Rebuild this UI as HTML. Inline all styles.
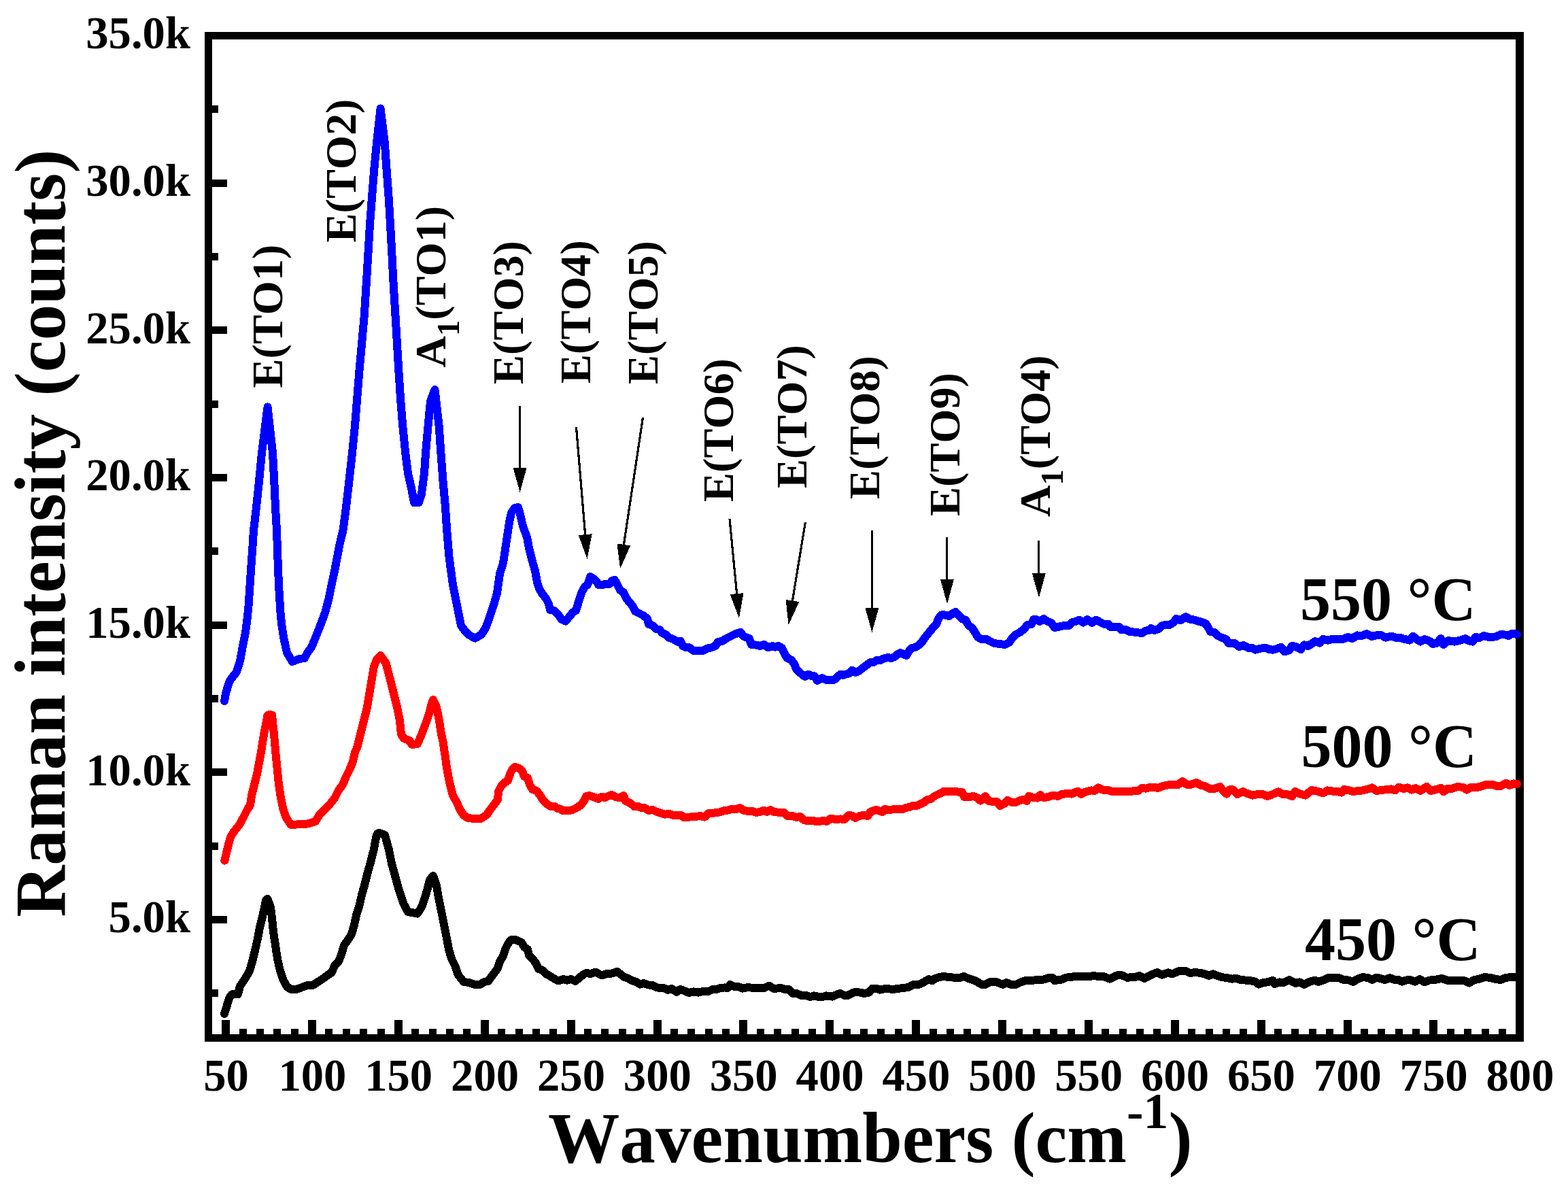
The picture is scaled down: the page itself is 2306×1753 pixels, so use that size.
<!DOCTYPE html>
<html lang="en"><head><meta charset="utf-8"><title>Raman spectra</title>
<style>html,body{margin:0;padding:0;background:#fff;}body{width:2306px;height:1753px;overflow:hidden;}svg{display:block;}text{font-family:"Liberation Serif","Times New Roman",serif;font-weight:bold;fill:#000;font-kerning:none;font-variant-ligatures:none;}</style>
</head><body>
<svg width="2306" height="1753" viewBox="0 0 2306 1753" role="img" aria-label="Raman spectra at 450, 500 and 550 degrees C">
<rect x="0" y="0" width="2306" height="1753" fill="#fff"/>
<g shape-rendering="crispEdges" fill="#000">
<rect x="301" y="47" width="1940" height="11"/>
<rect x="301" y="1521" width="1940" height="11"/>
<rect x="301" y="47" width="11" height="1485"/>
<rect x="2229" y="47" width="12" height="1485"/>
<rect x="326" y="1500" width="12" height="22"/>
<rect x="352" y="1513" width="11" height="9"/>
<rect x="377" y="1513" width="11" height="9"/>
<rect x="402" y="1513" width="11" height="9"/>
<rect x="428" y="1513" width="11" height="9"/>
<rect x="453" y="1500" width="12" height="22"/>
<rect x="478" y="1513" width="11" height="9"/>
<rect x="504" y="1513" width="11" height="9"/>
<rect x="529" y="1513" width="11" height="9"/>
<rect x="555" y="1513" width="11" height="9"/>
<rect x="580" y="1500" width="12" height="22"/>
<rect x="605" y="1513" width="11" height="9"/>
<rect x="631" y="1513" width="11" height="9"/>
<rect x="656" y="1513" width="11" height="9"/>
<rect x="681" y="1513" width="11" height="9"/>
<rect x="707" y="1500" width="12" height="22"/>
<rect x="732" y="1513" width="11" height="9"/>
<rect x="758" y="1513" width="11" height="9"/>
<rect x="783" y="1513" width="11" height="9"/>
<rect x="808" y="1513" width="11" height="9"/>
<rect x="834" y="1500" width="12" height="22"/>
<rect x="859" y="1513" width="11" height="9"/>
<rect x="884" y="1513" width="11" height="9"/>
<rect x="910" y="1513" width="11" height="9"/>
<rect x="935" y="1513" width="11" height="9"/>
<rect x="961" y="1500" width="12" height="22"/>
<rect x="986" y="1513" width="11" height="9"/>
<rect x="1011" y="1513" width="11" height="9"/>
<rect x="1037" y="1513" width="11" height="9"/>
<rect x="1062" y="1513" width="11" height="9"/>
<rect x="1087" y="1500" width="12" height="22"/>
<rect x="1113" y="1513" width="11" height="9"/>
<rect x="1138" y="1513" width="11" height="9"/>
<rect x="1164" y="1513" width="11" height="9"/>
<rect x="1189" y="1513" width="11" height="9"/>
<rect x="1214" y="1500" width="12" height="22"/>
<rect x="1240" y="1513" width="11" height="9"/>
<rect x="1265" y="1513" width="11" height="9"/>
<rect x="1290" y="1513" width="11" height="9"/>
<rect x="1316" y="1513" width="11" height="9"/>
<rect x="1341" y="1500" width="12" height="22"/>
<rect x="1367" y="1513" width="11" height="9"/>
<rect x="1392" y="1513" width="11" height="9"/>
<rect x="1417" y="1513" width="11" height="9"/>
<rect x="1443" y="1513" width="11" height="9"/>
<rect x="1468" y="1500" width="12" height="22"/>
<rect x="1493" y="1513" width="11" height="9"/>
<rect x="1519" y="1513" width="11" height="9"/>
<rect x="1544" y="1513" width="11" height="9"/>
<rect x="1570" y="1513" width="11" height="9"/>
<rect x="1595" y="1500" width="12" height="22"/>
<rect x="1620" y="1513" width="11" height="9"/>
<rect x="1646" y="1513" width="11" height="9"/>
<rect x="1671" y="1513" width="11" height="9"/>
<rect x="1696" y="1513" width="11" height="9"/>
<rect x="1722" y="1500" width="12" height="22"/>
<rect x="1747" y="1513" width="11" height="9"/>
<rect x="1773" y="1513" width="11" height="9"/>
<rect x="1798" y="1513" width="11" height="9"/>
<rect x="1823" y="1513" width="11" height="9"/>
<rect x="1849" y="1500" width="12" height="22"/>
<rect x="1874" y="1513" width="11" height="9"/>
<rect x="1899" y="1513" width="11" height="9"/>
<rect x="1925" y="1513" width="11" height="9"/>
<rect x="1950" y="1513" width="11" height="9"/>
<rect x="1976" y="1500" width="12" height="22"/>
<rect x="2001" y="1513" width="11" height="9"/>
<rect x="2026" y="1513" width="11" height="9"/>
<rect x="2052" y="1513" width="11" height="9"/>
<rect x="2077" y="1513" width="11" height="9"/>
<rect x="2102" y="1500" width="12" height="22"/>
<rect x="2128" y="1513" width="11" height="9"/>
<rect x="2153" y="1513" width="11" height="9"/>
<rect x="2179" y="1513" width="11" height="9"/>
<rect x="2204" y="1513" width="11" height="9"/>
<rect x="311" y="1455" width="10" height="11"/>
<rect x="311" y="1347" width="23" height="11"/>
<rect x="311" y="1239" width="10" height="11"/>
<rect x="311" y="1130" width="23" height="11"/>
<rect x="311" y="1022" width="10" height="11"/>
<rect x="311" y="914" width="23" height="11"/>
<rect x="311" y="805" width="10" height="11"/>
<rect x="311" y="697" width="23" height="11"/>
<rect x="311" y="589" width="10" height="11"/>
<rect x="311" y="480" width="23" height="11"/>
<rect x="311" y="372" width="10" height="11"/>
<rect x="311" y="264" width="23" height="11"/>
<rect x="311" y="155" width="10" height="11"/>
</g>
<g fill="none" stroke-width="12.0" stroke-linejoin="round" stroke-linecap="round" shape-rendering="crispEdges">
<path d="M330.0,1491.0 L334.0,1478.0 L338.0,1466.0 L341.0,1462.4 L350.0,1462.0 L353.0,1450.0 L360.0,1440.0 L367.0,1428.0 L371.0,1414.0 L375.0,1398.0 L379.0,1380.0 L382.0,1364.0 L386.0,1348.0 L389.0,1334.0 L391.0,1324.0 L393.4,1322.0 L398.0,1334.0 L400.0,1350.0 L402.0,1370.0 L405.0,1390.0 L408.0,1410.0 L412.0,1428.0 L417.0,1442.0 L422.0,1451.0 L428.0,1455.0 L436.0,1455.0 L444.0,1452.0 L452.0,1449.0 L460.0,1449.0 L466.0,1445.0 L474.0,1440.0 L482.0,1434.0 L488.0,1430.0 L492.0,1420.0 L498.0,1414.0 L502.0,1404.0 L506.0,1390.0 L512.0,1382.0 L517.0,1374.0 L521.0,1360.0 L524.0,1346.0 L528.0,1334.0 L532.0,1316.0 L536.0,1302.0 L540.0,1286.0 L545.0,1268.0 L549.6,1250.0 L553.0,1232.0 L555.0,1226.0 L558.0,1225.0 L566.0,1228.0 L572.0,1250.0 L576.0,1270.0 L581.6,1290.0 L587.0,1310.0 L594.0,1330.0 L600.0,1341.0 L614.0,1343.6 L620.0,1334.0 L625.0,1320.0 L629.0,1306.0 L632.0,1294.0 L637.0,1288.0 L642.0,1302.0 L645.0,1320.0 L649.0,1340.0 L653.0,1360.0 L657.0,1380.0 L660.0,1396.0 L664.0,1410.0 L670.0,1422.0 L674.0,1434.0 L682.0,1444.0 L690.0,1445.0 L698.0,1448.0 L706.0,1448.0 L712.0,1444.0 L718.0,1443.0 L720.0,1440.0 L726.0,1432.0 L732.0,1424.0 L735.0,1414.0 L740.0,1406.0 L743.0,1396.0 L747.0,1388.0 L751.0,1382.4 L756.0,1381.6 L762.0,1383.6 L767.0,1386.0 L771.0,1393.0 L776.0,1396.0 L778.0,1405.0 L783.0,1410.0 L788.0,1416.0 L792.0,1425.0 L798.0,1427.0 L803.0,1432.4 L808.0,1435.0 L813.0,1438.0 L818.0,1441.0 L822.0,1442.4 L828.0,1440.0 L834.0,1441.6 L840.0,1440.0 L846.0,1443.0 L852.0,1438.0 L858.0,1433.0 L862.0,1431.0 L869.0,1432.0 L876.0,1429.6 L882.0,1433.0 L886.0,1434.4 L892.0,1432.0 L898.0,1432.0 L903.0,1430.4 L908.0,1429.0 L913.0,1433.0 L918.0,1437.0 L924.0,1439.0 L930.0,1442.4 L936.0,1444.0 L941.0,1447.6 L947.0,1446.0 L953.0,1448.4 L960.0,1449.0 L966.0,1452.4 L973.0,1453.0 L978.0,1453.6 L982.0,1456.0 L988.0,1454.0 L995.0,1459.0 L1000.0,1455.0 L1006.0,1457.0 L1013.0,1460.0 L1020.0,1458.4 L1027.0,1459.6 L1034.0,1458.0 L1042.0,1458.0 L1048.0,1455.0 L1054.0,1455.0 L1060.0,1453.0 L1066.0,1452.4 L1070.0,1453.0 L1074.0,1448.0 L1080.0,1451.0 L1086.0,1451.0 L1092.0,1453.6 L1100.0,1452.0 L1108.0,1453.0 L1116.0,1453.0 L1124.0,1453.0 L1131.0,1449.6 L1137.0,1453.6 L1142.0,1453.6 L1148.0,1453.0 L1154.0,1455.0 L1160.0,1455.0 L1166.0,1461.0 L1172.0,1461.0 L1179.0,1464.4 L1184.0,1463.6 L1192.0,1466.0 L1197.0,1464.4 L1204.0,1466.0 L1210.0,1466.0 L1215.0,1464.4 L1224.0,1465.6 L1230.0,1463.0 L1236.0,1461.0 L1242.0,1464.0 L1248.0,1463.6 L1252.0,1461.0 L1258.0,1459.0 L1265.0,1459.6 L1271.0,1461.0 L1278.0,1459.6 L1283.0,1453.6 L1289.0,1454.0 L1294.0,1455.6 L1300.0,1454.4 L1308.0,1454.4 L1314.0,1455.0 L1320.0,1454.0 L1328.0,1453.0 L1336.0,1452.0 L1343.0,1448.0 L1349.0,1448.4 L1356.0,1446.0 L1361.0,1443.0 L1366.0,1440.0 L1371.0,1442.4 L1375.0,1439.0 L1382.0,1437.0 L1388.0,1436.0 L1395.0,1437.0 L1402.0,1437.6 L1411.0,1438.0 L1418.0,1436.0 L1424.0,1439.0 L1430.0,1441.0 L1436.0,1443.0 L1443.0,1447.6 L1450.0,1447.6 L1456.0,1444.0 L1464.0,1444.0 L1470.0,1446.0 L1475.0,1448.0 L1480.0,1445.0 L1486.0,1447.6 L1494.0,1448.0 L1500.0,1445.0 L1507.0,1442.4 L1514.0,1442.4 L1520.0,1441.6 L1528.0,1441.0 L1536.0,1440.4 L1542.0,1438.0 L1548.0,1438.0 L1551.0,1442.4 L1556.0,1441.0 L1560.0,1441.0 L1568.0,1437.6 L1575.0,1437.0 L1582.0,1435.6 L1590.0,1436.4 L1600.0,1436.4 L1608.0,1435.0 L1616.0,1436.0 L1624.0,1436.4 L1632.0,1439.6 L1640.0,1435.6 L1646.0,1433.6 L1652.0,1435.0 L1658.0,1438.0 L1664.0,1437.0 L1670.0,1437.0 L1676.0,1435.0 L1683.0,1439.0 L1689.0,1435.6 L1696.0,1432.4 L1702.0,1430.0 L1709.0,1433.6 L1718.0,1430.4 L1724.0,1432.4 L1730.0,1429.6 L1736.0,1427.6 L1744.0,1428.0 L1750.0,1431.0 L1758.0,1430.0 L1766.0,1431.0 L1772.0,1432.4 L1778.0,1435.0 L1784.0,1432.4 L1790.0,1435.0 L1796.0,1437.0 L1804.0,1438.0 L1812.0,1439.6 L1818.0,1439.0 L1824.0,1441.0 L1832.0,1441.6 L1840.0,1442.4 L1846.0,1443.6 L1851.0,1447.6 L1858.0,1445.0 L1864.0,1444.3 L1872.0,1442.0 L1875.0,1447.0 L1882.0,1444.4 L1888.0,1445.0 L1896.0,1441.0 L1905.0,1446.0 L1911.0,1444.4 L1918.0,1448.0 L1926.0,1443.6 L1934.0,1441.6 L1939.0,1444.0 L1946.0,1441.6 L1954.0,1437.6 L1962.0,1437.6 L1970.0,1438.4 L1976.0,1441.0 L1984.0,1441.6 L1990.0,1444.0 L1996.0,1440.0 L2004.0,1437.0 L2012.0,1438.0 L2018.0,1441.0 L2024.0,1437.6 L2030.0,1439.0 L2037.0,1441.0 L2044.0,1438.0 L2051.0,1441.0 L2057.0,1441.0 L2062.0,1443.6 L2068.0,1441.6 L2073.0,1441.0 L2081.0,1443.6 L2088.0,1440.0 L2095.0,1444.4 L2102.0,1441.6 L2110.0,1441.0 L2120.0,1439.0 L2128.0,1441.6 L2137.0,1442.4 L2144.0,1441.6 L2154.0,1442.4 L2161.0,1445.6 L2168.0,1441.0 L2175.0,1440.0 L2184.0,1437.0 L2192.0,1438.0 L2200.0,1440.0 L2207.0,1441.0 L2214.0,1438.0 L2222.0,1437.0 L2231.0,1437.0" stroke="#000"/>
<path d="M330.4,1265.6 L333.0,1254.0 L336.0,1242.0 L339.0,1231.0 L344.0,1223.0 L352.0,1213.0 L358.0,1202.0 L364.0,1190.0 L368.0,1184.0 L370.0,1170.0 L374.0,1154.0 L378.0,1138.0 L381.0,1122.0 L384.0,1106.0 L386.4,1090.0 L388.0,1080.0 L392.0,1060.0 L393.5,1052.0 L396.0,1051.0 L400.0,1051.5 L403.0,1080.0 L405.6,1110.0 L407.6,1130.0 L409.6,1150.0 L412.4,1170.0 L416.4,1190.0 L421.0,1203.0 L428.0,1213.0 L438.0,1212.4 L448.0,1212.4 L458.0,1210.0 L464.0,1208.0 L470.0,1198.0 L476.0,1192.0 L484.0,1184.0 L492.0,1174.0 L498.0,1162.0 L504.0,1154.0 L509.0,1142.0 L514.0,1132.0 L519.0,1120.0 L522.0,1106.0 L525.0,1100.0 L530.0,1080.0 L535.0,1060.0 L540.0,1040.0 L543.2,1020.0 L546.6,1000.0 L550.0,980.0 L554.0,970.0 L559.6,964.0 L567.5,975.0 L574.0,1000.0 L579.0,1020.0 L584.0,1040.0 L588.0,1060.0 L590.0,1080.0 L594.0,1086.0 L602.0,1089.0 L606.0,1095.0 L614.0,1094.0 L620.0,1080.0 L626.0,1064.0 L631.0,1050.0 L634.0,1038.0 L637.0,1029.0 L642.0,1040.0 L646.0,1060.0 L649.0,1080.0 L651.4,1090.0 L654.4,1110.0 L657.2,1130.0 L661.0,1150.0 L666.0,1170.0 L672.0,1180.0 L676.0,1190.0 L682.0,1199.0 L688.0,1203.0 L698.0,1204.0 L708.0,1203.6 L716.0,1198.0 L720.0,1192.0 L726.0,1184.0 L732.0,1176.0 L733.0,1164.0 L737.0,1156.0 L742.0,1151.0 L747.0,1148.0 L750.0,1138.0 L753.0,1132.0 L757.0,1128.0 L763.0,1129.6 L768.0,1134.0 L771.0,1142.0 L776.0,1144.0 L779.0,1154.0 L783.0,1161.0 L789.0,1163.0 L794.0,1169.0 L798.0,1176.0 L804.0,1182.0 L809.0,1185.6 L816.0,1186.0 L820.0,1189.0 L824.0,1189.6 L828.0,1192.4 L836.0,1192.4 L842.0,1191.0 L848.0,1188.0 L854.0,1184.0 L859.0,1178.0 L862.0,1171.0 L867.0,1170.0 L874.0,1172.4 L880.0,1175.0 L885.0,1171.6 L890.0,1173.0 L896.0,1170.0 L900.0,1169.0 L906.0,1172.4 L912.0,1173.0 L917.0,1170.0 L920.0,1178.0 L928.0,1181.6 L933.0,1186.4 L938.0,1185.6 L942.0,1187.6 L948.0,1188.0 L954.0,1192.0 L960.0,1191.0 L966.0,1194.0 L972.0,1196.0 L978.0,1197.6 L984.0,1197.0 L990.0,1199.0 L996.0,1199.0 L1002.0,1199.0 L1006.0,1202.4 L1014.0,1201.6 L1022.0,1201.0 L1030.0,1200.0 L1036.0,1201.6 L1042.0,1196.0 L1050.0,1195.6 L1058.0,1194.4 L1064.0,1192.4 L1070.0,1191.6 L1076.0,1190.0 L1082.0,1190.4 L1088.0,1188.0 L1094.0,1192.0 L1100.0,1193.0 L1106.0,1193.0 L1112.0,1195.0 L1118.0,1194.0 L1123.0,1191.6 L1128.0,1194.0 L1133.0,1191.0 L1139.0,1194.4 L1146.0,1194.6 L1153.0,1195.0 L1158.0,1200.0 L1165.0,1199.6 L1171.0,1202.0 L1177.0,1201.0 L1183.0,1206.4 L1190.0,1207.0 L1196.0,1207.0 L1202.0,1208.4 L1210.0,1207.0 L1216.0,1208.0 L1222.0,1203.6 L1229.0,1205.0 L1236.0,1204.4 L1242.0,1205.0 L1248.0,1199.0 L1253.0,1199.6 L1258.0,1203.0 L1264.0,1200.0 L1270.0,1199.0 L1276.0,1200.0 L1280.0,1194.0 L1288.0,1191.0 L1294.0,1193.0 L1298.0,1194.0 L1301.0,1190.0 L1308.0,1191.0 L1316.0,1190.0 L1323.0,1190.4 L1328.0,1190.0 L1332.0,1188.0 L1338.0,1187.0 L1342.0,1185.0 L1348.0,1185.0 L1354.0,1182.4 L1359.0,1180.0 L1363.0,1176.4 L1369.0,1175.0 L1374.0,1171.0 L1380.0,1168.0 L1385.0,1166.0 L1388.0,1163.6 L1395.0,1164.0 L1401.0,1163.6 L1407.0,1164.4 L1415.0,1165.0 L1418.0,1172.0 L1425.0,1172.4 L1431.0,1171.0 L1437.0,1173.0 L1442.0,1177.6 L1449.0,1171.0 L1454.0,1178.0 L1460.0,1179.0 L1466.0,1179.0 L1471.0,1185.0 L1477.0,1182.0 L1482.0,1177.0 L1488.0,1180.0 L1494.0,1180.0 L1500.0,1177.0 L1506.0,1176.0 L1510.0,1178.0 L1513.0,1171.0 L1520.0,1173.0 L1526.0,1173.6 L1530.0,1169.0 L1535.0,1173.0 L1542.0,1172.0 L1548.0,1169.6 L1556.0,1171.0 L1560.0,1168.5 L1568.0,1167.0 L1576.0,1167.6 L1585.0,1163.6 L1590.0,1168.0 L1597.0,1164.4 L1605.0,1162.4 L1610.0,1163.0 L1615.0,1158.4 L1622.0,1161.6 L1629.0,1161.6 L1636.0,1164.4 L1646.0,1163.6 L1654.0,1164.0 L1662.0,1164.4 L1668.0,1163.0 L1674.0,1163.0 L1679.0,1159.0 L1685.0,1159.6 L1691.0,1158.0 L1698.0,1157.6 L1703.0,1159.0 L1710.0,1156.0 L1718.0,1154.4 L1726.0,1154.0 L1732.0,1154.4 L1739.0,1149.0 L1745.0,1153.6 L1752.0,1153.6 L1760.0,1151.0 L1766.0,1155.0 L1772.0,1156.0 L1779.0,1160.0 L1786.0,1160.0 L1794.0,1157.0 L1800.0,1164.0 L1804.0,1167.6 L1809.0,1161.0 L1814.0,1161.6 L1820.0,1168.0 L1828.0,1164.0 L1834.0,1167.0 L1842.0,1169.6 L1850.0,1168.0 L1858.0,1168.4 L1864.0,1171.0 L1872.0,1168.0 L1880.0,1164.4 L1887.0,1168.4 L1894.0,1168.4 L1900.0,1171.0 L1905.0,1164.0 L1912.0,1167.6 L1920.0,1169.6 L1929.0,1162.0 L1937.0,1163.6 L1946.0,1166.4 L1952.0,1162.4 L1960.0,1163.6 L1966.0,1163.6 L1973.0,1165.6 L1977.0,1161.0 L1984.0,1162.4 L1990.0,1164.0 L1998.0,1163.0 L2004.0,1162.4 L2012.0,1160.4 L2018.0,1158.4 L2024.0,1163.0 L2032.0,1162.0 L2040.0,1161.0 L2046.0,1160.4 L2052.0,1162.4 L2057.0,1157.6 L2064.0,1160.0 L2070.0,1158.4 L2076.0,1161.6 L2082.0,1159.0 L2089.0,1163.0 L2098.0,1157.0 L2104.0,1163.0 L2112.0,1161.0 L2119.0,1159.0 L2123.0,1164.4 L2128.0,1160.0 L2136.0,1159.6 L2144.0,1157.0 L2152.0,1158.0 L2157.0,1161.6 L2164.0,1157.6 L2172.0,1158.0 L2180.0,1156.0 L2186.0,1154.0 L2194.0,1153.6 L2202.0,1156.0 L2208.0,1155.6 L2215.0,1151.6 L2220.0,1155.0 L2226.0,1152.4 L2231.0,1153.0" stroke="#f00"/>
<path d="M330.0,1031.0 L332.0,1020.0 L336.0,1006.0 L338.0,1001.0 L348.0,988.0 L353.0,972.0 L357.0,950.0 L361.0,930.0 L363.6,910.0 L365.6,890.0 L367.6,860.0 L369.6,830.0 L371.6,802.0 L373.0,780.0 L377.0,746.0 L381.2,706.0 L385.0,666.0 L389.5,630.0 L393.6,598.5 L397.0,630.0 L401.0,666.0 L403.2,706.0 L405.0,746.0 L407.0,780.0 L408.4,820.0 L410.0,860.0 L412.4,900.0 L414.4,920.0 L417.6,940.0 L422.0,960.0 L430.0,973.0 L440.0,969.0 L448.0,968.0 L452.0,960.0 L458.0,952.0 L463.0,940.0 L471.0,920.0 L478.4,900.0 L483.6,880.0 L487.6,860.0 L492.0,840.0 L495.8,820.0 L499.6,800.0 L504.5,780.0 L509.0,746.0 L513.6,706.0 L518.0,666.0 L522.0,626.0 L525.2,586.0 L528.4,546.0 L532.0,506.0 L535.6,466.0 L539.2,410.0 L541.6,370.0 L544.0,330.0 L547.0,290.0 L550.2,250.0 L554.0,210.0 L559.6,159.5 L565.8,210.0 L568.6,250.0 L571.6,290.0 L574.0,330.0 L576.2,370.0 L578.2,410.0 L581.6,466.0 L584.0,506.0 L586.4,546.0 L589.0,586.0 L592.2,626.0 L596.2,666.0 L600.0,696.0 L605.0,718.0 L609.0,739.0 L616.0,739.0 L620.0,726.0 L624.0,696.0 L626.0,666.0 L629.6,626.0 L633.0,590.0 L639.5,573.0 L645.6,626.0 L648.4,666.0 L651.4,706.0 L655.0,746.0 L657.2,780.0 L660.6,820.0 L666.0,860.0 L674.0,900.0 L678.0,920.0 L684.0,928.0 L690.0,934.0 L699.0,938.6 L708.0,933.0 L714.0,924.0 L720.0,908.0 L726.0,890.0 L731.0,872.0 L733.0,858.0 L735.0,844.0 L740.0,828.0 L743.0,808.0 L746.0,788.0 L749.0,768.0 L752.0,754.0 L757.0,747.0 L762.0,746.0 L765.0,756.0 L768.0,770.0 L772.0,782.0 L775.0,790.0 L778.0,806.0 L782.0,822.0 L787.0,840.0 L790.0,856.0 L793.0,866.0 L798.0,874.0 L803.0,880.0 L807.0,888.0 L809.0,897.0 L815.0,898.0 L821.0,904.0 L826.0,911.0 L832.0,913.6 L838.0,906.0 L843.0,900.0 L847.0,898.0 L850.0,888.0 L853.0,878.0 L856.0,870.0 L860.0,863.0 L864.0,860.0 L867.0,852.0 L868.0,848.0 L874.0,852.0 L878.0,856.0 L880.0,860.0 L886.0,860.0 L890.0,859.0 L896.0,859.0 L900.0,854.0 L904.0,853.0 L908.0,860.0 L912.0,868.0 L917.0,871.0 L921.0,880.0 L926.0,886.0 L931.0,892.0 L934.0,899.0 L940.0,902.0 L946.0,905.0 L952.0,910.0 L954.0,918.0 L960.0,920.0 L965.0,925.0 L970.0,926.0 L974.0,931.0 L979.0,933.0 L984.0,938.0 L990.0,940.0 L996.0,943.6 L1001.0,943.0 L1004.0,950.0 L1009.0,952.4 L1014.0,952.4 L1020.0,957.0 L1026.0,957.0 L1034.0,957.0 L1040.0,953.6 L1046.0,952.4 L1052.0,950.0 L1056.0,944.0 L1062.0,943.0 L1068.0,939.0 L1074.0,936.0 L1080.0,933.0 L1086.0,931.0 L1089.0,930.0 L1094.0,936.0 L1102.0,939.0 L1105.0,948.0 L1112.0,948.6 L1118.0,950.0 L1124.0,948.0 L1130.0,952.4 L1136.0,950.0 L1140.0,951.6 L1145.0,950.0 L1150.0,953.0 L1154.0,962.0 L1158.0,968.0 L1163.0,970.0 L1168.0,976.0 L1171.0,984.0 L1176.0,989.0 L1181.0,993.0 L1184.0,995.0 L1189.0,991.6 L1193.0,994.0 L1198.0,994.4 L1202.0,1001.0 L1209.0,997.0 L1215.0,1000.0 L1221.0,1000.4 L1227.0,999.6 L1231.0,996.0 L1236.0,991.6 L1240.0,993.0 L1244.0,991.6 L1249.0,990.4 L1253.0,985.6 L1258.0,989.0 L1263.0,987.0 L1268.0,983.0 L1272.0,980.0 L1276.0,977.0 L1280.0,974.0 L1285.0,974.0 L1289.0,971.0 L1295.0,971.0 L1300.0,968.4 L1306.0,967.0 L1311.0,968.0 L1316.0,965.6 L1320.0,962.0 L1324.0,960.0 L1328.0,961.6 L1333.0,964.0 L1337.0,957.0 L1341.0,953.0 L1346.0,952.0 L1351.0,949.0 L1356.0,944.0 L1360.0,938.0 L1364.0,933.0 L1368.0,928.0 L1373.0,922.0 L1377.0,918.0 L1380.0,910.0 L1384.0,904.4 L1389.0,904.4 L1396.0,906.0 L1400.0,903.0 L1405.0,900.0 L1410.0,905.0 L1415.0,910.4 L1420.0,911.6 L1424.0,919.0 L1430.0,924.0 L1434.0,930.0 L1438.0,937.0 L1443.0,940.0 L1450.0,939.6 L1456.0,943.0 L1462.0,946.0 L1470.0,947.0 L1478.0,948.0 L1484.0,945.0 L1489.0,938.0 L1494.0,933.0 L1500.0,930.0 L1506.0,925.0 L1511.0,919.0 L1517.0,918.0 L1520.0,911.0 L1524.0,911.0 L1529.0,914.0 L1535.0,910.0 L1540.0,913.6 L1546.0,916.0 L1551.0,923.0 L1556.0,922.0 L1560.0,921.0 L1566.0,920.0 L1572.0,920.0 L1577.0,915.0 L1582.0,914.0 L1587.0,911.6 L1593.0,915.6 L1599.0,911.0 L1606.0,916.0 L1612.0,911.6 L1618.0,915.0 L1624.0,918.0 L1630.0,917.6 L1633.0,922.0 L1640.0,921.6 L1646.0,922.0 L1649.0,926.4 L1656.0,926.0 L1661.0,929.0 L1668.0,929.6 L1674.0,930.4 L1680.0,931.0 L1685.0,927.6 L1690.0,927.0 L1693.0,924.0 L1698.0,927.0 L1704.0,925.0 L1709.0,920.0 L1715.0,919.0 L1720.0,919.0 L1725.0,916.0 L1730.0,910.0 L1736.0,912.4 L1744.0,907.0 L1749.0,910.4 L1756.0,911.6 L1762.0,913.6 L1768.0,915.0 L1773.0,917.0 L1777.0,923.0 L1780.0,929.0 L1786.0,930.0 L1791.0,935.0 L1797.0,938.0 L1803.0,940.0 L1807.0,946.0 L1816.0,946.0 L1822.0,951.0 L1829.0,949.0 L1836.0,953.0 L1842.0,953.0 L1846.0,955.6 L1854.0,953.6 L1862.0,953.0 L1867.0,955.3 L1872.0,955.6 L1877.0,954.4 L1884.0,951.6 L1889.0,958.4 L1896.0,956.4 L1900.0,950.0 L1906.0,951.0 L1913.0,955.0 L1918.0,948.4 L1924.0,950.0 L1930.0,946.0 L1934.0,943.0 L1941.0,945.6 L1946.0,940.0 L1953.0,941.6 L1960.0,939.6 L1968.0,940.0 L1976.0,939.6 L1982.0,937.0 L1989.0,939.0 L1996.0,934.4 L2003.0,935.0 L2010.0,932.0 L2017.0,936.0 L2024.0,934.4 L2031.0,934.0 L2038.0,937.6 L2046.0,935.6 L2053.0,938.0 L2059.0,938.0 L2066.0,940.0 L2073.0,941.6 L2078.0,935.6 L2083.0,940.0 L2089.0,943.6 L2095.0,940.0 L2102.0,942.4 L2107.0,947.0 L2113.0,946.0 L2119.0,939.0 L2123.0,948.0 L2130.0,942.0 L2139.0,943.6 L2148.0,941.6 L2155.0,939.0 L2160.0,942.4 L2166.0,943.6 L2170.0,937.0 L2176.0,938.0 L2182.0,935.0 L2190.0,937.0 L2200.0,936.4 L2207.0,933.0 L2214.0,933.6 L2219.0,935.0 L2224.0,931.6 L2231.0,933.0" stroke="#00f"/>
</g>
<text x="280.0" y="1371.3" font-size="66.67" text-anchor="end">5.0k</text>
<text x="280.0" y="1154.6" font-size="66.67" text-anchor="end">10.0k</text>
<text x="280.0" y="938.0" font-size="66.67" text-anchor="end">15.0k</text>
<text x="280.0" y="721.3" font-size="66.67" text-anchor="end">20.0k</text>
<text x="280.0" y="504.6" font-size="66.67" text-anchor="end">25.0k</text>
<text x="280.0" y="288.0" font-size="66.67" text-anchor="end">30.0k</text>
<text x="280.0" y="71.3" font-size="66.67" text-anchor="end">35.0k</text>
<text x="332.5" y="1603.7" font-size="66.67" text-anchor="middle">50</text>
<text x="459.4" y="1603.7" font-size="66.67" text-anchor="middle">100</text>
<text x="586.2" y="1603.7" font-size="66.67" text-anchor="middle">150</text>
<text x="713.1" y="1603.7" font-size="66.67" text-anchor="middle">200</text>
<text x="840.0" y="1603.7" font-size="66.67" text-anchor="middle">250</text>
<text x="966.8" y="1603.7" font-size="66.67" text-anchor="middle">300</text>
<text x="1093.7" y="1603.7" font-size="66.67" text-anchor="middle">350</text>
<text x="1220.6" y="1603.7" font-size="66.67" text-anchor="middle">400</text>
<text x="1347.4" y="1603.7" font-size="66.67" text-anchor="middle">450</text>
<text x="1474.3" y="1603.7" font-size="66.67" text-anchor="middle">500</text>
<text x="1601.2" y="1603.7" font-size="66.67" text-anchor="middle">550</text>
<text x="1728.0" y="1603.7" font-size="66.67" text-anchor="middle">600</text>
<text x="1854.9" y="1603.7" font-size="66.67" text-anchor="middle">650</text>
<text x="1981.8" y="1603.7" font-size="66.67" text-anchor="middle">700</text>
<text x="2108.6" y="1603.7" font-size="66.67" text-anchor="middle">750</text>
<text x="2235.5" y="1603.7" font-size="66.67" text-anchor="middle">800</text>
<text x="806.0" y="1708.5" font-size="105.30" text-anchor="start">Wavenumbers (cm<tspan font-size="73.71" dy="-49.2">-1</tspan><tspan dy="49.2">)</tspan></text>
<text transform="translate(95.0,1348.8) rotate(-90)" font-size="105.30" text-anchor="start">Raman intensity (counts)</text>
<text transform="translate(415.0,570.5) rotate(-90)" font-size="64.40">E(TO1)</text>
<text transform="translate(522.5,356.5) rotate(-90)" font-size="64.40">E(TO2)</text>
<text transform="translate(655.0,540.5) rotate(-90)" font-size="64.40">A<tspan font-size="46.37" dy="19.5">1</tspan><tspan dy="-19.5">(TO1)</tspan></text>
<text transform="translate(769.0,565.0) rotate(-90)" font-size="64.40">E(TO3)</text>
<text transform="translate(868.0,564.0) rotate(-90)" font-size="64.40">E(TO4)</text>
<text transform="translate(966.5,565.0) rotate(-90)" font-size="64.40">E(TO5)</text>
<text transform="translate(1078.0,738.0) rotate(-90)" font-size="64.40">E(TO6)</text>
<text transform="translate(1186.0,718.0) rotate(-90)" font-size="64.40">E(TO7)</text>
<text transform="translate(1292.5,734.0) rotate(-90)" font-size="64.40">E(TO8)</text>
<text transform="translate(1410.5,759.0) rotate(-90)" font-size="64.40">E(TO9)</text>
<text transform="translate(1543.5,760.0) rotate(-90)" font-size="64.40">A<tspan font-size="46.37" dy="19.5">1</tspan><tspan dy="-19.5">(TO4)</tspan></text>
<text x="1912.0" y="911.5" font-size="90.00">550 °C</text>
<text x="1913.5" y="1127.5" font-size="90.00">500 °C</text>
<text x="1919.0" y="1412.0" font-size="90.00">450 °C</text>
<g shape-rendering="crispEdges" fill="#000" stroke="#000">
<line x1="764.6" y1="597.0" x2="764.6" y2="690.0" stroke-width="3.2"/>
<polygon points="764.6,724.0 754.6,688.0 774.6,688.0" stroke="none"/>
<line x1="847.5" y1="628.0" x2="860.8" y2="788.1" stroke-width="3.2"/>
<polygon points="863.6,822.0 850.7,787.0 870.6,785.3" stroke="none"/>
<line x1="945.5" y1="614.0" x2="917.1" y2="802.9" stroke-width="3.2"/>
<polygon points="912.0,836.5 907.5,799.4 927.2,802.4" stroke="none"/>
<line x1="1073.0" y1="763.0" x2="1083.8" y2="875.2" stroke-width="3.2"/>
<polygon points="1087.0,909.0 1073.6,874.1 1093.5,872.2" stroke="none"/>
<line x1="1184.4" y1="768.0" x2="1165.1" y2="885.4" stroke-width="3.2"/>
<polygon points="1159.6,919.0 1155.6,881.9 1175.3,885.1" stroke="none"/>
<line x1="1282.4" y1="780.0" x2="1282.4" y2="896.0" stroke-width="3.2"/>
<polygon points="1282.4,930.0 1272.4,894.0 1292.4,894.0" stroke="none"/>
<line x1="1392.8" y1="790.0" x2="1392.9" y2="854.0" stroke-width="3.2"/>
<polygon points="1393.0,888.0 1382.9,852.0 1402.9,852.0" stroke="none"/>
<line x1="1527.6" y1="795.0" x2="1527.8" y2="845.0" stroke-width="3.2"/>
<polygon points="1528.0,879.0 1517.8,843.0 1537.8,843.0" stroke="none"/>
</g>
</svg>
</body></html>
